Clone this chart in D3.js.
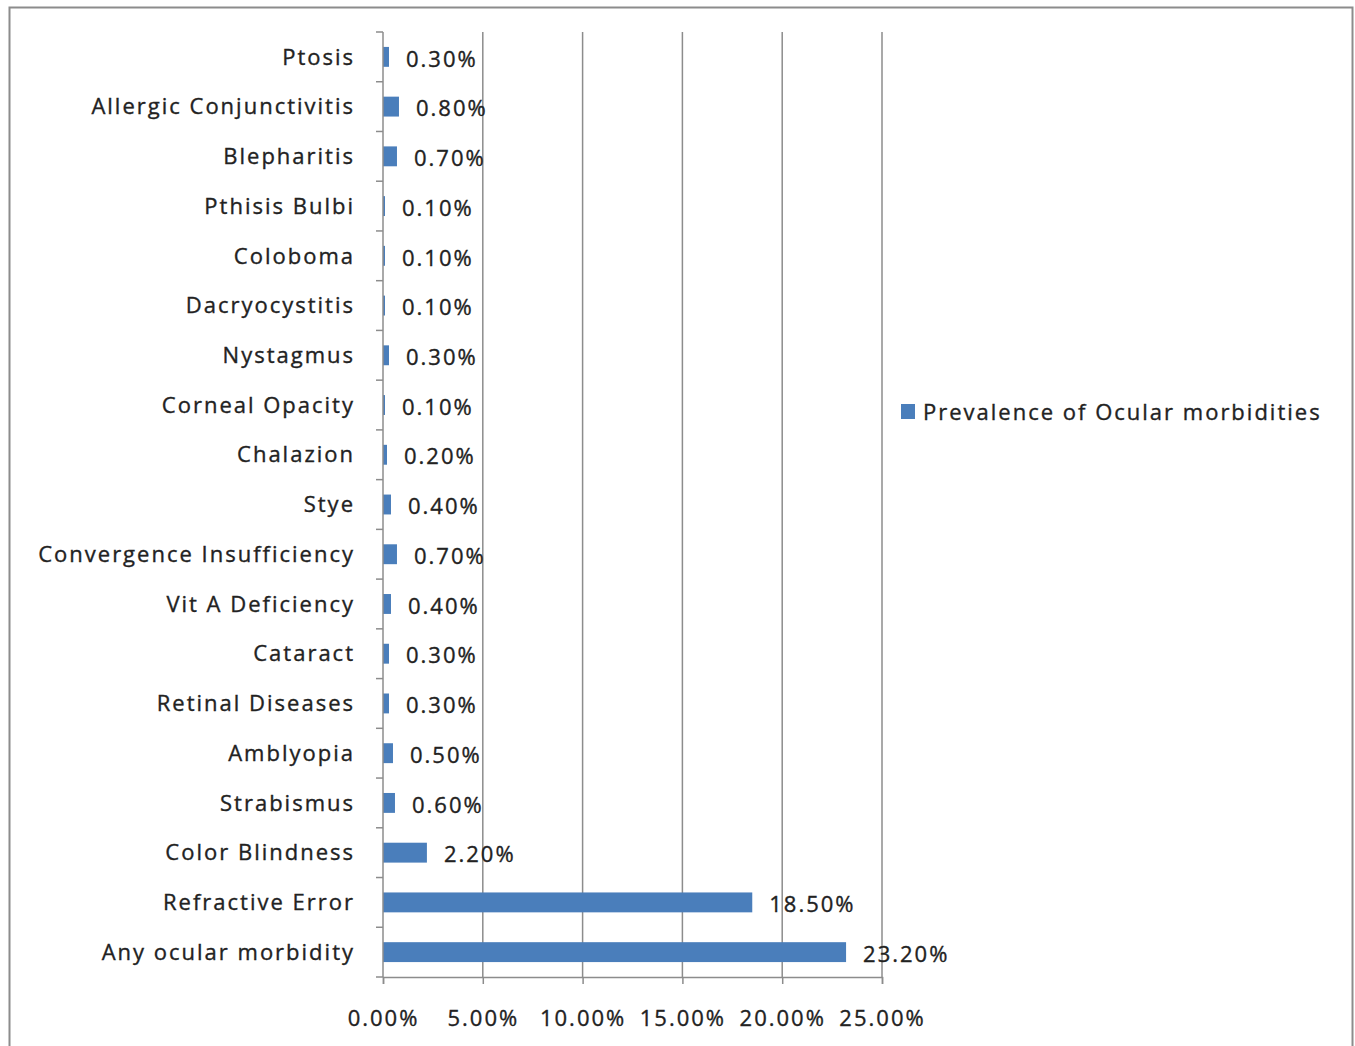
<!DOCTYPE html>
<html>
<head>
<meta charset="utf-8">
<script src="https://cdn.jsdelivr.net/npm/d3@7"></script>
<style>
  body { margin: 0; background: #fff; }
  svg text { font-family: "Open Sans", sans-serif; fill: #222; stroke: #222; stroke-width: 0.35px; letter-spacing: 2px; }
</style>
</head>
<body>
<svg id="chart" width="1355" height="1046"></svg>
<script>
// categories top to bottom, as in the picture
var categories = ["Ptosis", "Allergic Conjunctivitis", "Blepharitis", "Pthisis Bulbi", "Coloboma",
  "Dacryocystitis", "Nystagmus", "Corneal Opacity", "Chalazion", "Stye",
  "Convergence Insufficiency", "Vit A Deficiency", "Cataract", "Retinal Diseases",
  "Amblyopia", "Strabismus", "Color Blindness", "Refractive Error", "Any ocular morbidity"];
var prevalence = [0.3, 0.8, 0.7, 0.1, 0.1, 0.1, 0.3, 0.1, 0.2, 0.4,
  0.7, 0.4, 0.3, 0.3, 0.5, 0.6, 2.2, 18.5, 23.2];
var xTicks = [0, 5, 10, 15, 20, 25];
var seriesName = "Prevalence of Ocular morbidities";

var data = categories.map(function(c, i) { return {cat: c, val: prevalence[i]}; });

var svg = d3.select("#chart");
var margin = {top: 32, left: 383};
var width = 882 - 383, height = 977 - 32;
var blue = "#4a7ebb", grey = "#8c8c8c";

// outer frame (bottom edge runs off the picture)
svg.append("rect")
  .attr("x", 9.5).attr("y", 7.5)
  .attr("width", 1343).attr("height", 1060)
  .attr("fill", "none").attr("stroke", grey).attr("stroke-width", 2);

var g = svg.append("g").attr("transform", "translate(" + margin.left + "," + margin.top + ")");

var x = d3.scaleLinear().domain([0, 25]).range([0, width]);
var y = d3.scaleBand().domain(categories).range([0, height]).paddingInner(0.6).paddingOuter(0.3);

// gridlines
g.selectAll(".grid").data(xTicks.slice(1)).enter().append("line")
  .attr("class", "grid")
  .attr("x1", function(d) { return x(d); }).attr("x2", function(d) { return x(d); })
  .attr("y1", 0).attr("y2", height)
  .attr("stroke", grey).attr("stroke-width", 1.5);

// bars
g.selectAll(".bar").data(data).enter().append("rect")
  .attr("class", "bar")
  .attr("x", x(0))
  .attr("y", function(d) { return y(d.cat); })
  .attr("width", function(d) { return x(d.val) - x(0); })
  .attr("height", y.bandwidth())
  .attr("fill", blue);

// value labels
g.selectAll(".val").data(data).enter().append("text")
  .attr("class", "val")
  .attr("x", function(d) { return x(d.val) + 17; })
  .attr("y", function(d) { return y(d.cat) + y.bandwidth() / 2 + 2; })
  .attr("dy", "0.35em")
  .style("font-size", "22px")
  .text(function(d) { return d.val.toFixed(2) + "%"; });

// y axis: line + ticks at band boundaries
var step = height / categories.length;
g.append("line").attr("x1", 0).attr("x2", 0).attr("y1", 0).attr("y2", height)
  .attr("stroke", grey).attr("stroke-width", 1.5);
g.selectAll(".ytick").data(d3.range(categories.length + 1)).enter().append("line")
  .attr("x1", -7).attr("x2", 0)
  .attr("y1", function(i) { return i * step; }).attr("y2", function(i) { return i * step; })
  .attr("stroke", grey).attr("stroke-width", 1.5);
g.selectAll(".ylab").data(categories).enter().append("text")
  .attr("x", -28)
  .attr("y", function(d) { return y(d) + y.bandwidth() / 2; })
  .attr("dy", "0.35em")
  .attr("text-anchor", "end")
  .style("font-size", "22px")
  .text(function(d) { return d; });

// x axis
var xAxis = d3.axisBottom(x).tickValues(xTicks).tickSize(7)
  .tickFormat(function(d) { return d.toFixed(2) + "%"; });
var xa = g.append("g").attr("transform", "translate(0," + height + ")").call(xAxis);
xa.select(".domain").attr("stroke", grey).attr("stroke-width", 1.5);
xa.selectAll(".tick line").attr("stroke", grey).attr("stroke-width", 1.5);
xa.selectAll(".tick text").attr("y", 33).style("font-size", "22px")
  .style("font-family", "'Open Sans', sans-serif").attr("fill", "#222");

// legend
var lg = svg.append("g").attr("transform", "translate(901,404)");
lg.append("rect").attr("width", 14).attr("height", 15).attr("fill", blue);
lg.append("text").attr("x", 22).attr("y", 8).attr("dy", "0.35em")
  .style("font-size", "22px").text(seriesName);
</script>
</body>
</html>
